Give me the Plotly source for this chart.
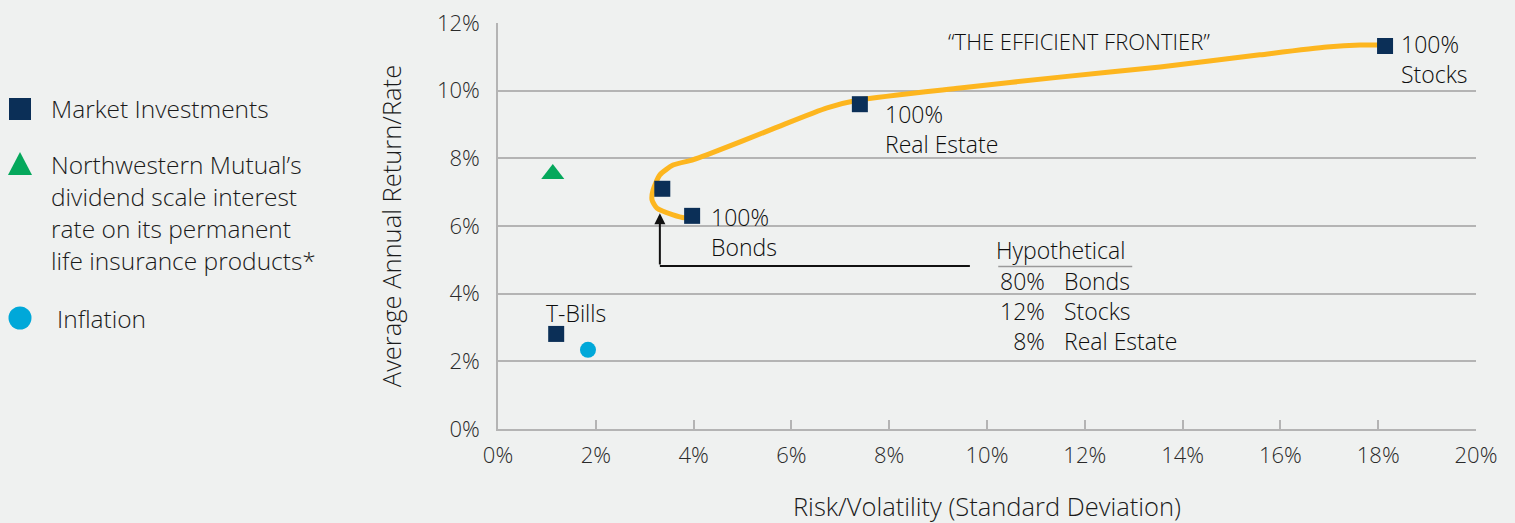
import plotly.graph_objects as go

# ---- data (percent) ----
market_names = ["T-Bills", "Hypothetical", "Bonds", "Real Estate", "Stocks"]
market_risk = [1.19, 3.36, 3.97, 7.40, 18.14]
market_return = [2.81, 7.10, 6.30, 9.60, 11.32]

nm_risk = [1.12]
nm_return = [7.54]

inflation_risk = [1.84]
inflation_return = [2.34]

frontier_risk = [3.97, 3.82, 3.58, 3.25, 3.15, 3.17, 3.31, 3.58, 3.97, 4.27, 5.62, 6.73,
                 7.40, 9.45, 11.49, 13.54, 15.58, 16.95, 17.63, 18.14]
frontier_return = [6.24, 6.24, 6.33, 6.53, 6.77, 7.06, 7.51, 7.80, 7.95, 8.10, 8.87, 9.49,
                   9.73, 10.08, 10.40, 10.70, 11.06, 11.29, 11.35, 11.35]

x_ticks = [0, 2, 4, 6, 8, 10, 12, 14, 16, 18, 20]
y_ticks = [0, 2, 4, 6, 8, 10, 12]
x_tick_labels = [f"{v}%" for v in x_ticks]
y_tick_labels = [f"{v}%" for v in y_ticks]

hyp_pct = ["80%", "12%", "8%"]
hyp_names = ["Bonds", "Stocks", "Real Estate"]

NAVY = "#0b2f57"
GREEN = "#05a85c"
CYAN = "#00a8d9"
GOLD = "#fdb61f"
BG = "#eff1f0"
GRID = "#b4b4b4"
FONT = "Open Sans"
TXT = "#0d0d0d"
W = 350

fig = go.Figure()

fig.add_trace(go.Scatter(x=frontier_risk, y=frontier_return, mode="lines",
                         line=dict(color=GOLD, width=5, shape="spline", smoothing=0.6),
                         hoverinfo="skip", showlegend=False))
fig.add_trace(go.Scatter(x=market_risk, y=market_return, mode="markers",
                         marker=dict(symbol="square", size=16, color=NAVY),
                         text=market_names, showlegend=False))
fig.add_trace(go.Scatter(x=nm_risk, y=nm_return, mode="markers",
                         marker=dict(symbol="triangle-up", size=20, color=GREEN),
                         showlegend=False))
fig.add_trace(go.Scatter(x=inflation_risk, y=inflation_return, mode="markers",
                         marker=dict(symbol="circle", size=16, color=CYAN),
                         showlegend=False))

ann = []
def txt(x, y, t, size=23, xanchor="left", yanchor="middle", xref="x", yref="y",
        color=TXT, align="left"):
    ann.append(dict(x=x, y=y, xref=xref, yref=yref, text=t, showarrow=False,
                    xanchor=xanchor, yanchor=yanchor, align=align,
                    font=dict(family=FONT, size=size, color=color, weight=W)))

txt(11.89, 11.47, "\u201cTHE EFFICIENT FRONTIER\u201d", size=22, xanchor="center")
txt(18.42, 10.94, "100%<br>Stocks")
txt(7.87, 8.88, "100%<br>Real Estate")
txt(4.31, 5.83, "100%<br>Bonds")
txt(1.60, 3.44, "T-Bills", xanchor="center")

# hypothetical table
txt(10.15, 5.29, "Hypothetical")
txt(11.23, 3.50, "<br>".join(hyp_pct), xanchor="right", align="right")
txt(11.53, 3.50, "<br>".join(hyp_names))

arrow_x = market_risk[1] - 0.05
# arrow up to hypothetical portfolio
ann.append(dict(x=arrow_x, y=6.38, ax=arrow_x, ay=4.82,
                xref="x", yref="y", axref="x", ayref="y", text="", showarrow=True,
                arrowhead=2, arrowsize=1.1, arrowwidth=2, arrowcolor="#111111"))

# left legend
def px2paper_x(px):
    return (px - 498) / 978
def px2paper_y(py):
    return (429 - py) / 406
legend_lines = [
    (49, 109, "Market Investments"),
    (49, 212, "Northwestern Mutual\u2019s<br>dividend scale interest<br>rate on its permanent<br>life insurance products*"),
    (55, 318, "Inflation"),
]
for lx, ly, t in legend_lines:
    txt(px2paper_x(lx), px2paper_y(ly), t, size=24.5, xref="paper", yref="paper", color="#1a1a1a")

shapes = [
    dict(type="line", xref="x", yref="y", x0=9.65, x1=arrow_x, y0=4.82, y1=4.82,
         line=dict(color="#111111", width=2)),
    dict(type="line", xref="x", yref="y", x0=10.23, x1=12.97, y0=4.80, y1=4.80,
         line=dict(color="#9a9a9a", width=1.5)),
    # legend markers
    dict(type="rect", xref="paper", yref="paper", xsizemode="pixel", ysizemode="pixel",
         xanchor=px2paper_x(20), yanchor=px2paper_y(109), x0=-11, x1=11, y0=-11, y1=11,
         fillcolor=NAVY, line=dict(width=0)),
    dict(type="path", xref="paper", yref="paper", xsizemode="pixel", ysizemode="pixel",
         xanchor=px2paper_x(20), yanchor=px2paper_y(164), path="M -12,-11 L 12,-11 L 0,12 Z",
         fillcolor=GREEN, line=dict(width=0)),
    dict(type="circle", xref="paper", yref="paper", xsizemode="pixel", ysizemode="pixel",
         xanchor=px2paper_x(20), yanchor=px2paper_y(318), x0=-11.5, x1=11.5, y0=-11.5, y1=11.5,
         fillcolor=CYAN, line=dict(width=0)),
]

fig.update_layout(
    width=1515, height=523,
    margin=dict(l=498, r=39, t=23, b=94),
    paper_bgcolor=BG, plot_bgcolor=BG,
    font=dict(family=FONT, color="#333333"),
    annotations=ann, shapes=shapes, showlegend=False,
    xaxis=dict(range=[0, 20], tickvals=x_ticks, ticktext=x_tick_labels, automargin=False,
               showgrid=False, zeroline=False, showline=True, linecolor=GRID, linewidth=1.5,
               ticks="inside", ticklen=9, tickcolor=GRID, tickwidth=1.5, ticklabelstandoff=6,
               tickfont=dict(family=FONT, size=22, color="#2a2a2a", weight=W),
               title=dict(text="Risk/Volatility (Standard Deviation)", standoff=33,
                          font=dict(family=FONT, size=25.5, color="#1a1a1a", weight=W))),
    yaxis=dict(range=[0, 12], tickvals=y_ticks, ticktext=y_tick_labels, automargin=False,
               showgrid=True, gridcolor=GRID, gridwidth=1.5, zeroline=False,
               showline=True, linecolor=GRID, linewidth=1.5, ticks="", ticklabelstandoff=12,
               tickfont=dict(family=FONT, size=22, color="#2a2a2a", weight=W),
               title=dict(text="Average Annual Return/Rate", standoff=28,
                          font=dict(family=FONT, size=25.5, color="#1a1a1a", weight=W))),
)

fig.write_html("out.html", config={"displayModeBar": False},
               post_script="document.body.style.margin='0px';document.body.style.background='" + BG + "';")
